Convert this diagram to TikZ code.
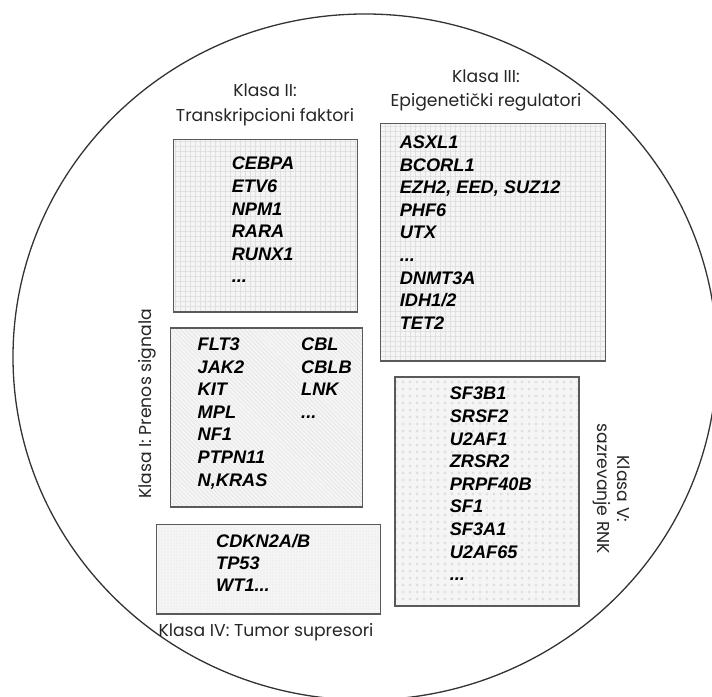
\documentclass[tikz,border=0pt]{standalone}
\usepackage{fontspec}
\setmainfont{Liberation Sans}
\newfontfamily\labelfont{Poppins}
\usetikzlibrary{patterns.meta}
\definecolor{boxline}{HTML}{5A5A5A}
\definecolor{boxbg}{HTML}{F5F5F5}
\definecolor{patcol}{HTML}{E0E0E0}
\tikzset{
  genebox/.style={fill=boxbg, inner sep=0pt, rectangle},
  boxborder/.style={postaction={draw=boxline, line width=1.4pt}},
  gridfill/.style={postaction={pattern={Hatch[angle=0,distance=5pt,line width=0.45pt]}, pattern color=patcol}, boxborder},
  linefill/.style={postaction={pattern={Lines[angle=-45,distance=3pt,line width=0.45pt]}, pattern color=patcol}, boxborder},
  speckfill/.style={postaction={pattern={Dots[radius=0.6pt,distance=3pt]}, pattern color=patcol}, boxborder},
  dotfill/.style={postaction={pattern={Dots[radius=1.8pt,distance=6.5pt]}, pattern color=patcol}, boxborder},
  genes/.style={anchor=north west, inner sep=0pt, align=left, font=\fontsize{18.2}{22.6}\selectfont\bfseries\itshape},
  classlabel/.style={inner sep=0pt, align=center, text=black!85, font=\labelfont\fontsize{17.2}{24.3}\selectfont},
}
\begin{document}
\begin{tikzpicture}[x=1pt,y=1pt]
\useasboundingbox (0,0) rectangle (712,696);
\fill[white] (0,0) rectangle (712,696);
\begin{scope}
  \clip (0,0) rectangle (712,696);
  \draw[black!80, line width=1.3pt] (365,339) ellipse [x radius=352, y radius=343];
\end{scope}
% boxes
\node[genebox, gridfill, minimum width=183.5pt, minimum height=172.6pt] (b2) at (265.5,470.3) {};
\node[genebox, gridfill, minimum width=224.8pt, minimum height=237.5pt] (b3) at (492.9,453.75) {};
\node[genebox, linefill, minimum width=192.1pt, minimum height=179.3pt] (b1) at (266.35,278.45) {};
\node[genebox, speckfill, minimum width=223.8pt, minimum height=89.5pt] (b4) at (268.6,126.75) {};
\node[genebox, dotfill, minimum width=184pt, minimum height=229pt] (b5) at (487,204.5) {};
% gene lists
\node[genes] (g2) at (231.6,539) {CEBPA\\ETV6\\NPM1\\RARA\\RUNX1\\...};
\node[genes] (g3) at (399.6,560.4) {ASXL1\\BCORL1\\EZH2, EED, SUZ12\\PHF6\\UTX\\...\\DNMT3A\\IDH1/2\\TET2};
\node[genes] (g1a) at (197.5,358.5) {FLT3\\JAK2\\KIT\\MPL\\NF1\\PTPN11\\N,KRAS};
\node[genes] (g1b) at (301,358.5) {CBL\\CBLB\\LNK\\...};
\node[genes, font=\fontsize{18.2}{22.3}\selectfont\bfseries\itshape] (g4) at (216,162) {CDKN2A/B\\TP53\\WT1...};
\node[genes] (g5) at (449.6,309) {SF3B1\\SRSF2\\U2AF1\\ZRSR2\\PRPF40B\\SF1\\SF3A1\\U2AF65\\...};
% class labels
\node[classlabel] (l2) at (265,591) {Klasa II:\\Transkripcioni faktori};
\node[classlabel] (l3) at (486,605.2) {Klasa III:\\Epigenetički regulatori};
\node[classlabel, rotate=90] (l1) at (147.6,292) {Klasa I: Prenos signala};
\node[classlabel] (l4) at (266,63.4) {Klasa IV: Tumor supresori};
\node[classlabel, rotate=-90, font=\labelfont\fontsize{17.2}{20.3}\selectfont] (l5) at (611.9,207) {Klasa V:\\sazrevanje RNK};
\end{tikzpicture}
\end{document}
